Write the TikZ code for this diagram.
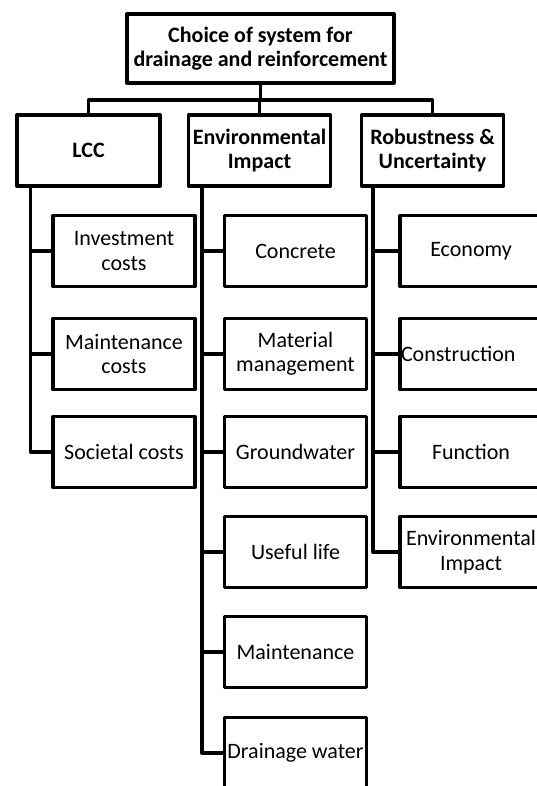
\documentclass[tikz,border=0pt]{standalone}
\usepackage{fontspec}
\setmainfont{Carlito}
\usepackage{tikz}

\tikzset{
  box/.style={draw, line width=3.3pt, line join=round, minimum width=142pt,
    minimum height=71pt, inner sep=0pt, align=center,
    font=\fontsize{22}{24.5}\selectfont},
  head/.style={box, font=\bfseries\fontsize{22}{24}\selectfont},
  link/.style={line width=3.3pt, line join=round}
}

\begin{document}
\begin{tikzpicture}[x=1pt,y=-1pt]
\useasboundingbox (0,0) rectangle (537,786);
\clip (0,0) rectangle (537,786);

% Top box
\node[head, minimum width=267pt, minimum height=69pt] (root) at (260.5,48.5)
  {Choice of system for\\drainage and reinforcement};

% Criteria
\node[head, minimum width=143pt] (lcc) at (88.5,150.5) {LCC};
\node[head] (env) at (259.5,150.5) {Environmental\\Impact};
\node[head] (rob) at (432.5,150.5) {Robustness \&\\Uncertainty};

% LCC column
\node[box] (inv) at (124,251) {Investment\\costs};
\node[box] (mco) at (124,354) {Maintenance\\costs};
\node[box] (soc) at (124,452) {Societal costs};

% Environmental column
\node[box] (con) at (295.5,251) {Concrete};
\node[box] (mat) at (295.5,354) {Material\\management};
\node[box] (gro) at (295.5,452) {Groundwater};
\node[box] (use) at (295.5,552) {Useful life};
\node[box] (mai) at (295.5,652) {Maintenance};
\node[box] (dra) at (295.5,753) {Drainage water};

% Robustness column
\node[box] (eco) at (471,251) {Economy};
\node[box, text width=140pt, inner xsep=1pt, align=left] (cst) at (471,354) {Construction};
\node[box] (fun) at (471,452) {Function};
\node[box] (eni) at (471,552) {Environmental\\Impact};

% Top links
\coordinate (bar) at (260.5,100);
\draw[link] (root.south) -- (bar);
\draw[link] (bar) -| (lcc.north);
\draw[link] (bar) -| (env.north);
\draw[link] (bar) -| (rob.north);

% Column links
\foreach \a in {inv,mco,soc}
  \draw[link] ([xshift=15pt]lcc.south west) |- (\a.west);
\foreach \a in {con,mat,gro,use,mai,dra}
  \draw[link] ([xshift=15pt]env.south west) |- (\a.west);
\foreach \a in {eco,cst,fun,eni}
  \draw[link] ([xshift=13pt]rob.south west) |- (\a.west);

\end{tikzpicture}
\end{document}
